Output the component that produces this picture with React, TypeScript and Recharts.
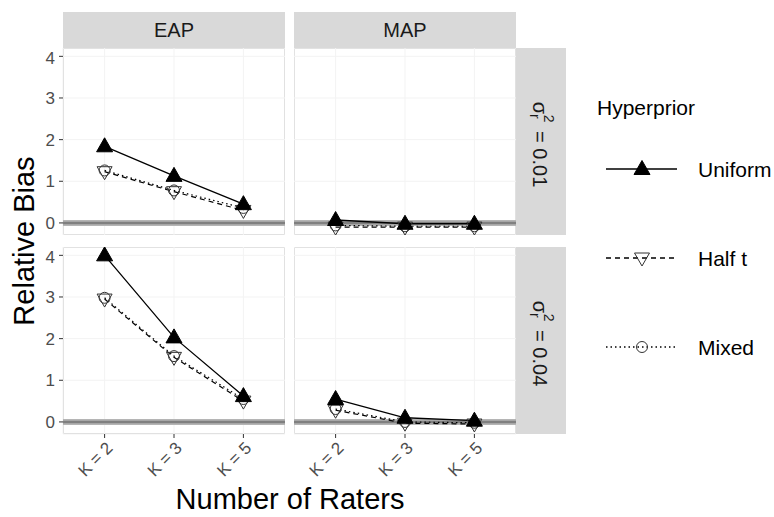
import React from 'react';
import { LineChart, Line, XAxis, YAxis, CartesianGrid, ReferenceLine } from 'recharts';

const categories = ['K = 2', 'K = 3', 'K = 5'];
const estimators = ['EAP', 'MAP'];
const raterVariances = ['0.01', '0.04'];
const hyperpriors = ['Uniform', 'Half t', 'Mixed'];
const yTicks = [0, 1, 2, 3, 4];

// relative bias (row: sigma_r^2, column: estimator)
const eapLowUniform = [1.84, 1.13, 0.45];
const eapLowHalfT = [1.23, 0.75, 0.3];
const eapLowMixed = [1.26, 0.78, 0.36];
const mapLowUniform = [0.07, -0.02, -0.02];
const mapLowHalfT = [-0.1, -0.1, -0.1];
const mapLowMixed = [-0.06, -0.08, -0.08];
const eapHighUniform = [4.0, 2.03, 0.62];
const eapHighHalfT = [2.95, 1.55, 0.5];
const eapHighMixed = [2.98, 1.58, 0.55];
const mapHighUniform = [0.55, 0.1, 0.03];
const mapHighHalfT = [0.28, -0.03, -0.05];
const mapHighMixed = [0.31, 0.0, -0.02];

const FONT = '"Liberation Sans", Arial, Helvetica, sans-serif';
const PANEL_W = 222;
const PANEL_H = 187;
const COL_X = [63, 294];
const ROW_Y = [48, 247];
const AXIS_H = 60;
const Y_AXIS_W = 63;
const STRIP_FILL = '#d9d9d9';

const TriUp = (props: any) => {
  const { cx, cy, index } = props;
  if (cx == null || cy == null) return null;
  return (
    <polygon key={`u-${index}`} points={`${cx},${cy - 8.5} ${cx - 8},${cy + 5.5} ${cx + 8},${cy + 5.5}`} fill="#000" stroke="#000" strokeWidth={1} />
  );
};

const TriDown = (props: any) => {
  const { cx, cy, index } = props;
  if (cx == null || cy == null) return null;
  return (
    <polygon key={`h-${index}`} points={`${cx - 7.5},${cy - 5} ${cx + 7.5},${cy - 5} ${cx},${cy + 8}`} fill="none" stroke="#333" strokeWidth={1} />
  );
};

const OpenCircle = (props: any) => {
  const { cx, cy, index } = props;
  if (cx == null || cy == null) return null;
  return <circle key={`m-${index}`} cx={cx} cy={cy} r={5.5} fill="none" stroke="#333" strokeWidth={1} />;
};

const RotTick = (props: any) => {
  const { x, y, payload } = props;
  return (
    <text x={x} y={y} transform={`rotate(-45 ${x} ${y})`} textAnchor="end" dy="0.75em" fill="#4d4d4d" fontSize={17} fontFamily={FONT}>
      {payload.value}
    </text>
  );
};

interface PanelProps {
  row: number;
  col: number;
  uniform: number[];
  halfT: number[];
  mixed: number[];
}

const Panel: React.FC<PanelProps> = ({ row, col, uniform, halfT, mixed }) => {
  const data = categories.map((k, i) => ({ k, uniform: uniform[i], halfT: halfT[i], mixed: mixed[i] }));
  const showY = col === 0;
  const showX = row === 1;
  const left = showY ? 0 : COL_X[col];
  const width = PANEL_W + (showY ? Y_AXIS_W : 0);
  const height = PANEL_H + (showX ? AXIS_H : 0);
  return (
    <>
      <div
        style={{
          position: 'absolute', left: COL_X[col], top: ROW_Y[row], width: PANEL_W, height: PANEL_H,
          boxSizing: 'border-box', border: '1px solid #d0d0d0', background: '#fff',
        }}
      />
      <div style={{ position: 'absolute', left, top: ROW_Y[row] }}>
        <LineChart width={width} height={height} data={data} margin={{ top: 0, right: 0, bottom: 0, left: 0 }}>
          <CartesianGrid stroke="#f3f3f3" />
          <XAxis
            dataKey="k"
            hide={!showX}
            height={AXIS_H}
            padding={{ left: 41.6, right: 41.6 }}
            axisLine={false}
            tickLine={{ stroke: '#333' }}
            tickSize={4}
            tickMargin={2}
            interval={0}
            tick={<RotTick />}
          />
          <YAxis
            type="number"
            domain={[-0.29, 4.2]}
            ticks={yTicks}
            allowDataOverflow
            hide={!showY}
            width={Y_AXIS_W}
            axisLine={false}
            tickSize={4}
            tickMargin={4}
            tickLine={{ stroke: '#333' }}
            tick={{ fill: '#4d4d4d', fontSize: 17, fontFamily: FONT }}
          />
          <ReferenceLine y={0} stroke="#b5b5b5" strokeWidth={6} />
          <ReferenceLine y={0} stroke="#808080" strokeWidth={2.5} />
          <Line dataKey="mixed" stroke="#000" strokeWidth={1.2} strokeDasharray="1.5 3" dot={OpenCircle} activeDot={false} isAnimationActive={false} />
          <Line dataKey="halfT" stroke="#000" strokeWidth={1.2} strokeDasharray="5 4" dot={TriDown} activeDot={false} isAnimationActive={false} />
          <Line dataKey="uniform" stroke="#000" strokeWidth={1.3} dot={TriUp} activeDot={false} isAnimationActive={false} />
        </LineChart>
      </div>
    </>
  );
};

const SigmaLabel: React.FC<{ cx: number; cy: number; value: string }> = ({ cx, cy, value }) => (
  <text transform={`translate(${cx} ${cy}) rotate(90)`} textAnchor="middle" dominantBaseline="central" fontSize={20} fill="#1a1a1a" fontFamily={FONT}>
    σ
    <tspan fontSize={14} dy={5}>r</tspan>
    <tspan fontSize={14} dx={-4} dy={-14}>2</tspan>
    <tspan dx={3} dy={9}>{` = ${value}`}</tspan>
  </text>
);

const App: React.FC = () => {
  const panelData = [
    { row: 0, col: 0, uniform: eapLowUniform, halfT: eapLowHalfT, mixed: eapLowMixed },
    { row: 0, col: 1, uniform: mapLowUniform, halfT: mapLowHalfT, mixed: mapLowMixed },
    { row: 1, col: 0, uniform: eapHighUniform, halfT: eapHighHalfT, mixed: eapHighMixed },
    { row: 1, col: 1, uniform: mapHighUniform, halfT: mapHighHalfT, mixed: mapHighMixed },
  ];
  const legendRows = [169, 258, 347];
  return (
    <div style={{ position: 'absolute', left: 0, top: 0, width: 774, height: 517, background: '#fff', overflow: 'hidden', fontFamily: FONT }}>
      {panelData.map((p) => (
        <Panel key={`${p.row}-${p.col}`} {...p} />
      ))}
      <svg width={774} height={517} style={{ position: 'absolute', left: 0, top: 0, pointerEvents: 'none' }}>
        {/* column strips */}
        {estimators.map((e, i) => (
          <g key={e}>
            <rect x={COL_X[i]} y={12} width={PANEL_W} height={36} fill={STRIP_FILL} />
            <text x={COL_X[i] + PANEL_W / 2} y={30} textAnchor="middle" dominantBaseline="central" fontSize={20} fill="#1a1a1a" fontFamily={FONT}>
              {e}
            </text>
          </g>
        ))}
        {/* row strips */}
        {raterVariances.map((v, i) => (
          <g key={v}>
            <rect x={COL_X[1] + PANEL_W} y={ROW_Y[i]} width={50} height={PANEL_H} fill={STRIP_FILL} />
            <SigmaLabel cx={COL_X[1] + PANEL_W + 24} cy={ROW_Y[i] + PANEL_H / 2 + 3} value={v} />
          </g>
        ))}
        {/* axis titles */}
        <text transform="translate(24 241) rotate(-90)" textAnchor="middle" dominantBaseline="central" fontSize={29} fill="#000" fontFamily={FONT}>
          Relative Bias
        </text>
        <text x={290} y={509} textAnchor="middle" fontSize={29} fill="#000" fontFamily={FONT}>
          Number of Raters
        </text>
        {/* legend */}
        <text x={597} y={107} dominantBaseline="central" fontSize={21} fill="#000" fontFamily={FONT}>
          Hyperprior
        </text>
        {hyperpriors.map((h, i) => {
          const y = legendRows[i];
          const dash = i === 0 ? undefined : i === 1 ? '5 4' : '1.5 3';
          return (
            <g key={h}>
              <line x1={606} x2={677} y1={y} y2={y} stroke="#000" strokeWidth={1.3} strokeDasharray={dash} />
              {i === 0 && <TriUp cx={642} cy={y} index={0} />}
              {i === 1 && <TriDown cx={642} cy={y} index={0} />}
              {i === 2 && <OpenCircle cx={642} cy={y} index={0} />}
              <text x={698} y={y} dominantBaseline="central" fontSize={21} fill="#000" fontFamily={FONT}>
                {h}
              </text>
            </g>
          );
        })}
      </svg>
    </div>
  );
};

export default App;
